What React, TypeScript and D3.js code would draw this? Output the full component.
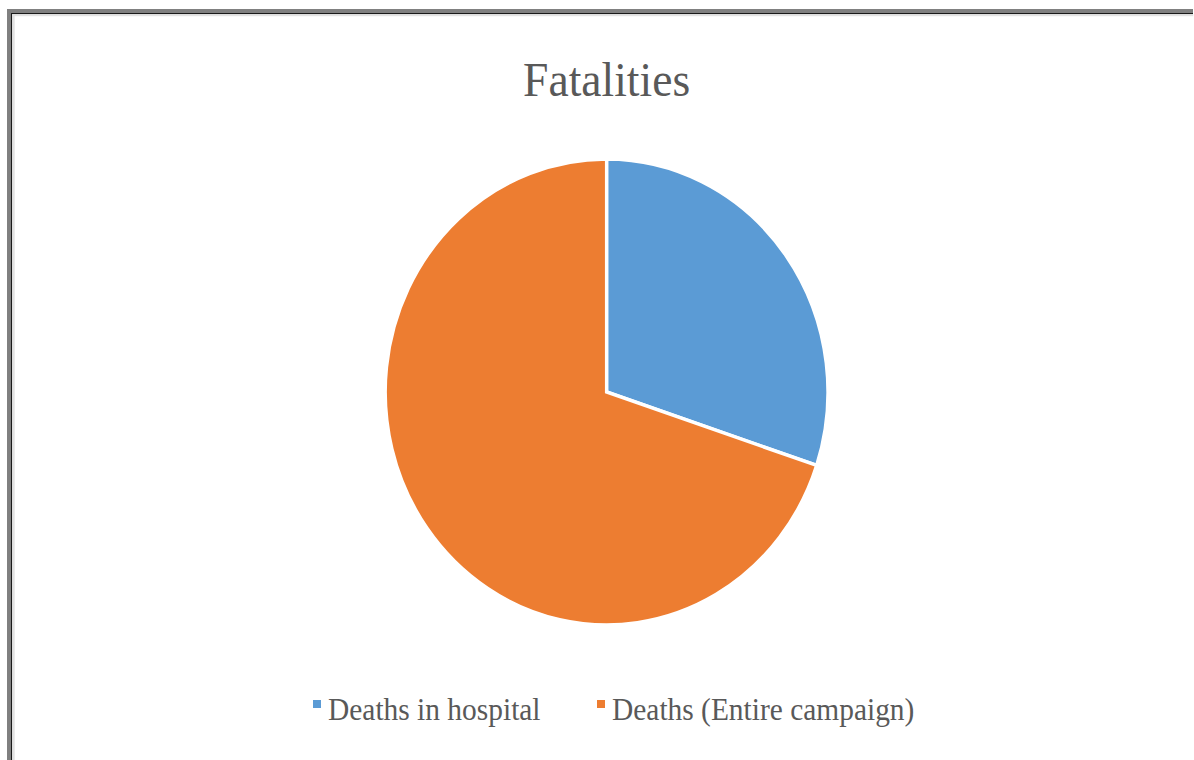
import React from "react";
import * as d3 from "d3";

const categories: string[] = ["Deaths in hospital", "Deaths (Entire campaign)"];
const values: number[] = [30.1, 69.9];
const colors: string[] = ["#5B9BD5", "#ED7D31"];
const title = "Fatalities";

const W = 1194;
const H = 760;
const SX = 0.95;
const FONT = "'Liberation Serif', 'Times New Roman', 'DejaVu Serif', serif";

export default function App() {
  const cx = 606.6;
  const cy = 392;
  const r = 233;
  const pie = d3
    .pie<number>()
    .sort(null)
    .value((d) => d)
    .startAngle(0)
    .endAngle(2 * Math.PI);
  const arcs = pie(values);
  const arc = d3.arc<d3.PieArcDatum<number>>().innerRadius(0).outerRadius(r);

  const legendX = [313, 597];
  return (
    <svg
      width={W}
      height={H}
      style={{ position: "absolute", left: 0, top: 0, background: "#fff" }}
    >
      <rect x={0} y={0} width={W} height={H} fill="#fff" />
      {/* frame */}
      <rect x={7} y={9} width={1186} height={4} fill="#808080" />
      <rect x={7} y={9} width={4} height={H} fill="#808080" />
      <rect x={11} y={13} width={1182} height={1.2} fill="#1a1a1a" />
      <rect x={11} y={13} width={1.2} height={H} fill="#1a1a1a" />
      <rect x={12.2} y={14.2} width={1181} height={2} fill="#e2e2e2" />
      <rect x={12.2} y={14.2} width={2.5} height={H} fill="#e2e2e2" />

      <g transform={`translate(${cx},96) scale(${SX},1)`}>
        <text
          x={0}
          y={0}
          textAnchor="middle"
          fontFamily={FONT}
          fontSize={48}
          fill="#595959"
        >
          {title}
        </text>
      </g>

      <g transform={`translate(${cx},${cy}) scale(${SX},1)`}>
        {arcs.map((a, i) => (
          <path
            key={i}
            d={arc(a) || ""}
            fill={colors[i]}
            stroke="#fff"
            strokeWidth={3.5}
            strokeLinejoin="miter"
          />
        ))}
      </g>

      {categories.map((c, i) => (
        <g key={c} transform={`translate(${legendX[i]},0)`}>
          <rect x={0} y={700} width={8} height={8} fill={colors[i]} />
          <g transform={`translate(15,720) scale(${SX},1)`}>
            <text x={0} y={0} fontFamily={FONT} fontSize={31} fill="#595959">
              {c}
            </text>
          </g>
        </g>
      ))}
    </svg>
  );
}
